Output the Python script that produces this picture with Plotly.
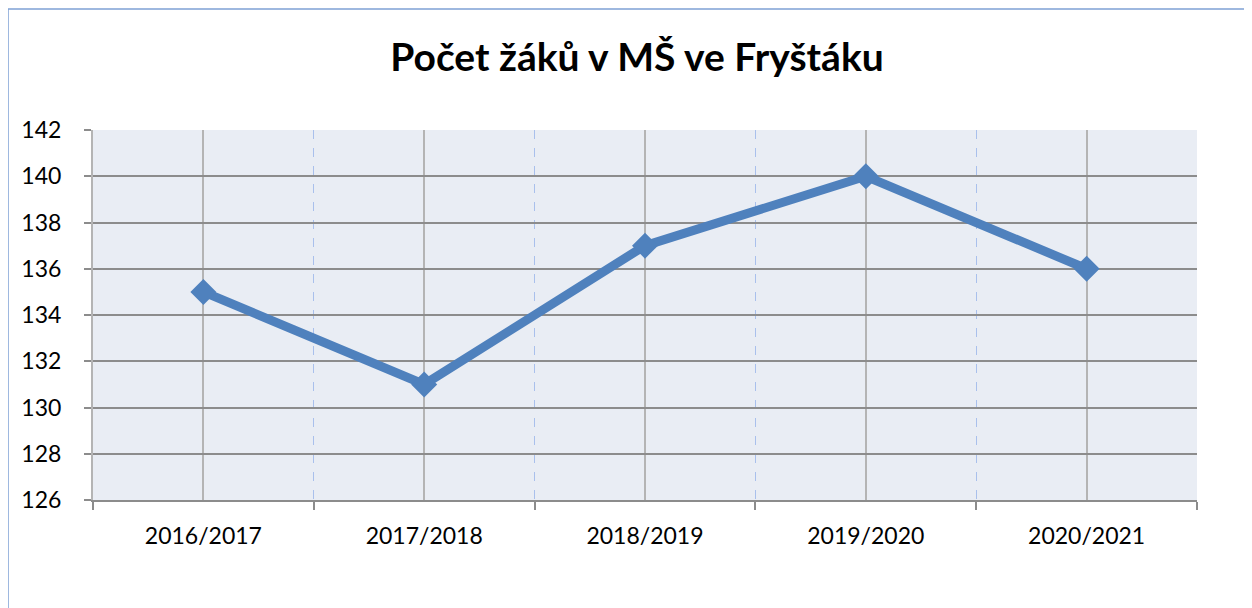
import plotly.graph_objects as go

categories = ["2016/2017", "2017/2018", "2018/2019", "2019/2020", "2020/2021"]
values = [135, 131, 137, 140, 136]
y_ticks = [126, 128, 130, 132, 134, 136, 138, 140, 142]
title_text = "Počet žáků v MŠ ve Fryštáku"

# page body has an 8px margin, so the figure is drawn 8px in from the top-left
OFF = 8
W, H = 1252 - OFF, 608 - OFF
L, R, T, B = 93 - OFF, 55, 130 - OFF, 108
pw, ph = W - L - R, H - T - B

x_idx = list(range(len(categories)))

fig = go.Figure()
fig.add_trace(go.Scatter(
    x=x_idx, y=values, mode="lines+markers",
    line=dict(color="#4F81BD", width=9),
    marker=dict(symbol="diamond", size=20, color="#4F81BD"),
    showlegend=False,
))

def px_x(p):
    return (p - OFF - L) / pw

def px_y(p):
    return (H - B - (p - OFF)) / ph

fig.update_layout(
    width=W, height=H,
    margin=dict(l=L, r=R, t=T, b=B),
    paper_bgcolor="white",
    plot_bgcolor="#E9EDF4",
    font=dict(family="Lato, Carlito, Liberation Sans, sans-serif", color="black"),
    title=dict(text="<b>" + title_text + "</b>", x=(637 - OFF) / W, xanchor="center",
               y=1 - (57 - OFF) / H, yanchor="middle",
               font=dict(size=39, color="black")),
    shapes=[dict(type="rect", xref="paper", yref="paper",
                 x0=px_x(8), x1=px_x(1270), y0=px_y(630), y1=px_y(9),
                 line=dict(color="#7FA1D5", width=1.5), layer="below")],
)

fig.update_xaxes(
    range=[-0.5, len(categories) - 0.5],
    tickmode="array", tickvals=x_idx, ticktext=categories,
    ticks="", showgrid=True, gridcolor="#B4B4B4", gridwidth=1.5,
    showline=True, linecolor="#8C8C8C", linewidth=2,
    tickfont=dict(size=23, color="black"),
    zeroline=False,
    minor=dict(tickmode="array", tickvals=[i - 0.5 for i in range(len(categories) + 1)],
               showgrid=True, gridcolor="#A9C0EC", griddash="dash", gridwidth=1,
               ticks="outside", ticklen=8, tickcolor="#8C8C8C", tickwidth=2),
    ticklabelstandoff=14,
)
fig.update_yaxes(
    range=[126, 142],
    tickmode="array", tickvals=y_ticks,
    ticks="outside", ticklen=7, tickcolor="#8C8C8C", tickwidth=2,
    showgrid=True, gridcolor="#8C8C8C", gridwidth=2,
    showline=True, linecolor="#B4B4B4", linewidth=2,
    tickfont=dict(size=23, color="black"),
    zeroline=False,
    ticklabelstandoff=18,
)

fig.write_html("out.html")
